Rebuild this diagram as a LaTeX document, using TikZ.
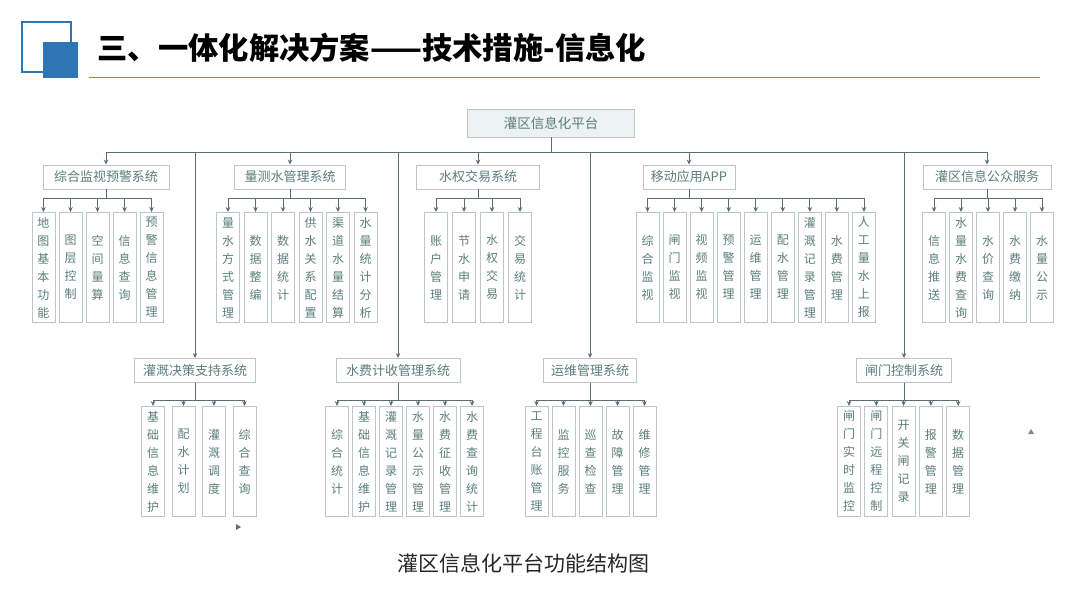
\documentclass[tikz,border=0pt]{standalone}
\usepackage{fontspec}
\setmainfont{Noto Sans CJK SC}
\usetikzlibrary{arrows.meta,positioning,calc}
\definecolor{TitleBlue}{RGB}{46,117,182}
\definecolor{BoxLine}{RGB}{188,198,198}
\definecolor{BoxText}{RGB}{92,125,125}
\definecolor{LinkGray}{RGB}{95,108,114}
\definecolor{RootFill}{RGB}{236,241,242}

\tikzset{
  sysbox/.style={draw=BoxLine,fill=white,line width=0.9pt,text=BoxText,minimum height=24pt,inner sep=0pt,font=\fontsize{13}{14}\selectfont},
  leafbox/.style={draw=BoxLine,fill=white,line width=0.9pt,text=BoxText,minimum width=23pt,minimum height=110pt,inner sep=0pt,align=center,anchor=north,font=\fontsize{12}{18}\selectfont},
  link/.style={draw=LinkGray,line width=0.9pt},
  tip/.style={-{Stealth[length=5pt,width=4.5pt]}}
}

\begin{document}
\begin{tikzpicture}[x=1pt,y=-1pt]
  \useasboundingbox (0,0) rectangle (1080,608);
  % header
  \draw[TitleBlue,line width=2pt] (22,22) rectangle (71,72);
  \fill[TitleBlue] (43,42) rectangle (78,78);
  \node[anchor=west,font=\fontsize{30.3}{32}\selectfont\bfseries] (title) at (94,48) {三、一体化解决方案——技术措施-信息化};
  \draw[TitleBlue!80,line width=1.5pt] (89,77.5) -- (1040,77.5);

  % platform
  \node[sysbox,fill=RootFill,minimum width=167pt,minimum height=28pt,font=\fontsize{13.5}{15}\selectfont] (root) at (551,123) {灌区信息化平台};

  % first row
  \node[sysbox,minimum width=126pt] (jianshi) at (106,177) {综合监视预警系统};
  \node[sysbox,minimum width=111pt] (liangce) at (290,177) {量测水管理系统};
  \node[sysbox,minimum width=123pt] (shuiquan) at (478,177) {水权交易系统};
  \node[sysbox,minimum width=92pt] (app) at (689,177) {移动应用APP};
  \node[sysbox,minimum width=128pt] (gongzhong) at (987,177) {灌区信息公众服务};

  % second row
  \node[sysbox,minimum width=121pt] (juece) at (195,370.5) {灌溉决策支持系统};
  \node[sysbox,minimum width=124pt] (shuifei) at (398,370.5) {水费计收管理系统};
  \node[sysbox,minimum width=93pt] (yunwei) at (590,370.5) {运维管理系统};
  \node[sysbox,minimum width=95pt] (zhamen) at (904,370.5) {闸门控制系统};

  \foreach \sys in {jianshi,liangce,shuiquan,app,gongzhong,juece,shuifei,yunwei,zhamen}
    \draw[link,tip] (root.south) -- ++(0,15) -| (\sys.north);

  % leaves, first row
  \foreach \lbl [count=\i] in {{地\\图\\基\\本\\功\\能},{图\\层\\控\\制},{空\\间\\量\\算},{信\\息\\查\\询},{预\\警\\信\\息\\管\\理}} {
    \node[leafbox] (jianshi\i) at ({43.5+27*(\i-1)},212) {\lbl};
    \draw[link,tip] (jianshi.south) -- ++(0,9) -| (jianshi\i.north);
  }
  \foreach \lbl [count=\i] in {{量\\水\\方\\式\\管\\理},{数\\据\\整\\编},{数\\据\\统\\计},{供\\水\\关\\系\\配\\置},{渠\\道\\水\\量\\结\\算},{水\\量\\统\\计\\分\\析}} {
    \node[leafbox] (liangce\i) at ({228+27.5*(\i-1)},212) {\lbl};
    \draw[link,tip] (liangce.south) -- ++(0,9) -| (liangce\i.north);
  }
  \foreach \lbl [count=\i] in {{账\\户\\管\\理},{节\\水\\申\\请},{水\\权\\交\\易},{交\\易\\统\\计}} {
    \node[leafbox] (shuiquan\i) at ({436+28*(\i-1)},212) {\lbl};
    \draw[link,tip] (shuiquan.south) -- ++(0,9) -| (shuiquan\i.north);
  }
  \foreach \lbl [count=\i] in {{综\\合\\监\\视},{闸\\门\\监\\视},{视\\频\\监\\视},{预\\警\\管\\理},{运\\维\\管\\理},{配\\水\\管\\理},{灌\\溉\\记\\录\\管\\理},{水\\费\\管\\理},{人\\工\\量\\水\\上\\报}} {
    \node[leafbox] (app\i) at ({647.5+27.06*(\i-1)},212) {\lbl};
    \draw[link,tip] (app.south) -- ++(0,9) -| (app\i.north);
  }
  \foreach \lbl [count=\i] in {{信\\息\\推\\送},{水\\量\\水\\费\\查\\询},{水\\价\\查\\询},{水\\费\\缴\\纳},{水\\量\\公\\示}} {
    \node[leafbox] (gongzhong\i) at ({934+27*(\i-1)},212) {\lbl};
    \draw[link,tip] (gongzhong.south) -- ++(0,9) -| (gongzhong\i.north);
  }

  % leaves, second row
  \foreach \lbl [count=\i] in {{基\\础\\信\\息\\维\\护},{配\\水\\计\\划},{灌\\溉\\调\\度},{综\\合\\查\\询}} {
    \node[leafbox] (juece\i) at ({153+30.5*(\i-1)},406) {\lbl};
    \draw[link,tip] (juece.south) -- ++(0,17) -| (juece\i.north);
  }
  \foreach \lbl [count=\i] in {{综\\合\\统\\计},{基\\础\\信\\息\\维\\护},{灌\\溉\\记\\录\\管\\理},{水\\量\\公\\示\\管\\理},{水\\费\\征\\收\\管\\理},{水\\费\\查\\询\\统\\计}} {
    \node[leafbox] (shuifei\i) at ({337+27*(\i-1)},406) {\lbl};
    \draw[link,tip] (shuifei.south) -- ++(0,17) -| (shuifei\i.north);
  }
  \foreach \lbl [count=\i] in {{工\\程\\台\\账\\管\\理},{监\\控\\服\\务},{巡\\查\\检\\查},{故\\障\\管\\理},{维\\修\\管\\理}} {
    \node[leafbox] (yunwei\i) at ({536.5+27*(\i-1)},406) {\lbl};
    \draw[link,tip] (yunwei.south) -- ++(0,17) -| (yunwei\i.north);
  }
  \foreach \lbl [count=\i] in {{闸\\门\\实\\时\\监\\控},{闸\\门\\远\\程\\控\\制},{开\\关\\闸\\记\\录},{报\\警\\管\\理},{数\\据\\管\\理}} {
    \node[leafbox] (zhamen\i) at ({849+27.3*(\i-1)},406) {\lbl};
    \draw[link,tip] (zhamen.south) -- ++(0,17) -| (zhamen\i.north);
  }

  % stray marks
  \fill[LinkGray] (236,524) -- (241,527) -- (236,530) -- cycle;
  \fill[LinkGray!80] (1028,434) -- (1031,429) -- (1034,434) -- cycle;

  \node[font=\fontsize{21}{22}\selectfont,text=black!85] (caption) at (523,563) {灌区信息化平台功能结构图};
\end{tikzpicture}
\end{document}
